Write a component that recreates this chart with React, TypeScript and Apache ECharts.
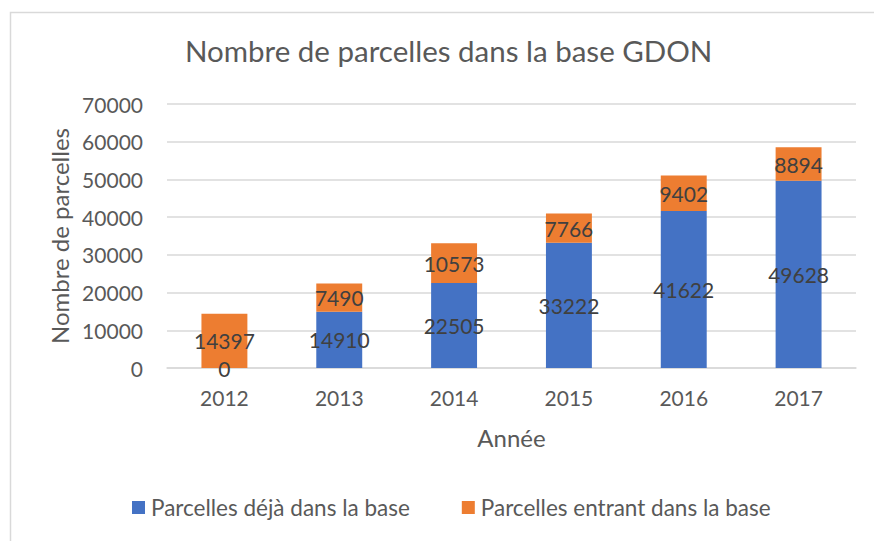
import React, { useEffect, useRef } from "react";
import * as echarts from "echarts";

const years = ["2012", "2013", "2014", "2015", "2016", "2017"];
const existing = [0, 14910, 22505, 33222, 41622, 49628];
const incoming = [14397, 7490, 10573, 7766, 9402, 8894];
const seriesNames = ["Parcelles déjà dans la base", "Parcelles entrant dans la base"];

const FONT = "Lato";

export default function App() {
  const ref = useRef<HTMLDivElement>(null);
  useEffect(() => {
    document.body.style.margin = "0";
    const chart = echarts.init(ref.current!, null, { renderer: "svg" });
    const labelStyle = {
      show: true,
      position: "inside" as const,
      color: "#404040",
      fontSize: 21,
      fontFamily: FONT,
    };
    chart.setOption({
      animation: false,
      backgroundColor: "#ffffff",
      textStyle: { fontFamily: FONT },
      title: {
        text: "Nombre de parcelles dans la base GDON",
        left: 185,
        top: 30,
        padding: [5, 5, 5, 0],
        textStyle: { fontSize: 29.5, fontWeight: "normal", color: "#595959", fontFamily: FONT },
      },
      graphic: [
        {
          type: "rect",
          shape: { x: 10.5, y: 12.5, width: 900, height: 600 },
          style: { fill: "none", stroke: "#d9d9d9", lineWidth: 1.5 },
          silent: true,
        },
      ],
      legend: {
        top: 491,
        left: 132,
        padding: [5, 5, 5, 0],
        itemWidth: 13,
        itemHeight: 13,
        itemGap: 52,
        icon: "rect",
        textStyle: { fontSize: 22.5, color: "#595959", fontFamily: FONT, padding: [0, 0, 0, 1] },
        data: seriesNames,
      },
      grid: { left: 167, right: 18, top: 104, bottom: 173 },
      xAxis: {
        type: "category",
        data: years,
        name: "Année",
        nameLocation: "middle",
        nameGap: 57,
        nameTextStyle: { fontSize: 24, color: "#595959", fontFamily: FONT },
        axisLine: { lineStyle: { color: "#d9d9d9", width: 1.5 } },
        axisTick: { show: false },
        axisLabel: { fontSize: 21, color: "#595959", margin: 19, fontFamily: FONT },
      },
      yAxis: {
        type: "value",
        min: 0,
        max: 70000,
        interval: 10000,
        name: "Nombre de parcelles",
        nameLocation: "middle",
        nameGap: 95,
        nameTextStyle: { fontSize: 24, color: "#595959", fontFamily: FONT },
        axisLine: { show: false },
        axisTick: { show: false },
        splitLine: { lineStyle: { color: "#d9d9d9", width: 1.5 } },
        axisLabel: {
          fontSize: 21,
          color: "#595959",
          margin: 24,
          fontFamily: FONT,
          formatter: (v: number) => String(v),
        },
      },
      series: [
        {
          name: seriesNames[0],
          type: "bar",
          stack: "total",
          data: existing,
          barWidth: "40%",
          itemStyle: { color: "#4472C4" },
          label: labelStyle,
        },
        {
          name: seriesNames[1],
          type: "bar",
          stack: "total",
          data: incoming,
          barWidth: "40%",
          itemStyle: { color: "#ED7D31" },
          label: labelStyle,
        },
      ],
    });
    return () => chart.dispose();
  }, []);
  return <div ref={ref} style={{ width: 874, height: 541 }} />;
}
